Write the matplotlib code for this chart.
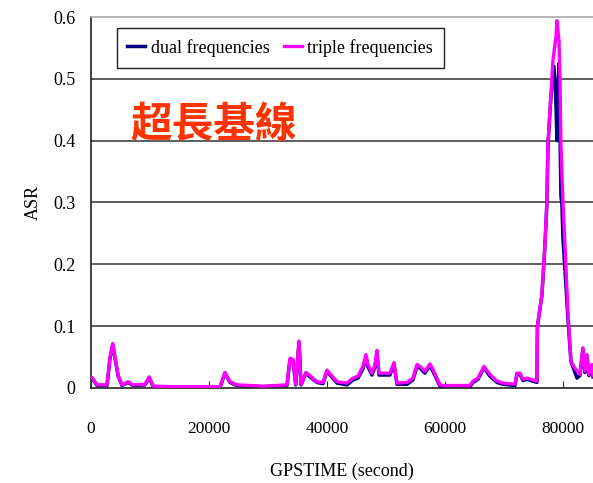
import matplotlib
matplotlib.use("Agg")
import matplotlib.pyplot as plt

# GPS time (s) and ASR values
t_triple = [0, 340, 1020, 2710, 3220, 3680, 4070, 4580, 5250, 6270, 7120, 9150, 9880,
            10510, 14580, 21870, 22710, 23560, 24750, 29150, 33220, 33730, 34240, 34700,
            35260, 35600, 36440, 37120, 38310, 39320, 40000, 40800, 41700, 43390, 44410,
            45260, 46100, 46610, 46950, 47630, 48140, 48480, 48820, 49830, 50680, 51360,
            51870, 53560, 54580, 55260, 55770, 56610, 57460, 57970, 59160, 59660, 64240,
            64750, 65600, 66610, 67630, 68820, 69830, 71870, 72210, 72720, 73220, 73900,
            75600, 75680, 76440, 76950, 77290, 77460, 77800, 78310, 78820, 78990, 79330,
            79500, 79660, 80000, 80340, 80850, 81360, 82040, 82890, 83390, 83730, 84070,
            84410, 84920, 85100]
asr_triple = [0.018, 0.015, 0.005, 0.005, 0.05, 0.072, 0.05, 0.021, 0.005, 0.01, 0.005, 0.006, 0.018,
              0.003, 0.002, 0.002, 0.025, 0.01, 0.005, 0.003, 0.005, 0.048, 0.046, 0.006,
              0.076, 0.006, 0.025, 0.02, 0.01, 0.009, 0.029, 0.02, 0.01, 0.008, 0.016,
              0.019, 0.035, 0.054, 0.038, 0.024, 0.038, 0.061, 0.024, 0.024, 0.024, 0.041,
              0.008, 0.009, 0.016, 0.038, 0.035, 0.027, 0.039, 0.03, 0.005, 0.004, 0.004,
              0.011, 0.016, 0.035, 0.022, 0.011, 0.008, 0.006, 0.024, 0.024, 0.014, 0.016,
              0.011, 0.1, 0.151, 0.232, 0.303, 0.395, 0.449, 0.53, 0.568, 0.594, 0.562,
              0.503, 0.395, 0.303, 0.232, 0.124, 0.043, 0.032, 0.022, 0.065, 0.027, 0.054,
              0.022, 0.038, 0.02]

t_dual = [0, 340, 1020, 2710, 3220, 3680, 4070, 4580, 5250, 6270, 7120, 9150, 9880,
          10510, 14580, 21870, 22710, 23560, 24750, 29150, 33220, 33730, 34240, 34700,
          35260, 35600, 36440, 37120, 38310, 39320, 40000, 40800, 41700, 43390, 44410,
          45260, 46100, 46610, 46950, 47630, 48140, 48480, 48820, 49830, 50680, 51360,
          51870, 53560, 54580, 55260, 55770, 56610, 57460, 57970, 59160, 59660, 64240,
          64750, 65600, 66610, 67630, 68820, 69830, 71870, 72210, 72720, 73220, 73900,
          75600, 75680, 76440, 76950, 77290, 77460, 77800, 77970, 78480, 78740, 78990,
          79330, 79660, 79830, 80000, 80430, 80850, 81360, 82380, 82890, 83390, 83730,
          84070, 84410, 84920, 85100]
asr_dual = [0.017, 0.014, 0.004, 0.004, 0.048, 0.07, 0.048, 0.02, 0.004, 0.009, 0.004, 0.005, 0.017,
            0.002, 0.001, 0.001, 0.024, 0.009, 0.004, 0.002, 0.004, 0.046, 0.044, 0.005,
            0.074, 0.005, 0.024, 0.018, 0.009, 0.007, 0.027, 0.018, 0.008, 0.005, 0.013,
            0.016, 0.031, 0.05, 0.034, 0.021, 0.034, 0.058, 0.021, 0.021, 0.021, 0.039,
            0.006, 0.006, 0.013, 0.035, 0.032, 0.024, 0.036, 0.027, 0.003, 0.002, 0.002,
            0.009, 0.014, 0.033, 0.019, 0.009, 0.006, 0.004, 0.023, 0.022, 0.012, 0.014,
            0.009, 0.1, 0.15, 0.23, 0.3, 0.39, 0.445, 0.47, 0.52, 0.486, 0.4,
            0.525, 0.31, 0.297, 0.243, 0.178, 0.113, 0.043, 0.016, 0.02, 0.063, 0.025,
            0.052, 0.02, 0.036, 0.018]

yticks = [0, 0.1, 0.2, 0.3, 0.4, 0.5, 0.6]
ytick_labels = ["0", "0.1", "0.2", "0.3", "0.4", "0.5", "0.6"]
xticks = [0, 20000, 40000, 60000, 80000]

plt.rcParams['font.family'] = ['Liberation Serif', 'DejaVu Serif']

fig = plt.figure(figsize=(5.93, 4.83), dpi=100)
ax = fig.add_axes([0.1535, 0.1967, 0.8465, 0.7681])

for y in yticks[1:-1]:
    ax.axhline(y, color='#333333', lw=1.1, zorder=1)

ax.plot(t_dual, asr_dual, color='#000080', lw=2.5, label='dual frequencies', zorder=2)
ax.plot(t_triple, asr_triple, color='#FF00FF', lw=2.4, label='triple frequencies', zorder=3)

ax.set_xlim(0, 85100)
ax.set_ylim(0, 0.6)
ax.set_xticks(xticks)
ax.set_xticklabels([str(v) for v in xticks], fontsize=12.5)
ax.set_yticks(yticks)
ax.set_yticklabels(ytick_labels, fontsize=13)
ax.tick_params(axis='x', direction='in', length=5, pad=24, color='#333333')
ax.tick_params(axis='y', length=0, pad=11)

ax.spines['right'].set_visible(False)
ax.spines['top'].set_color('#aaaaaa')
ax.spines['top'].set_linewidth(1.2)
ax.spines['left'].set_color('#222222')
ax.spines['bottom'].set_color('#222222')
ax.spines['left'].set_linewidth(1.2)
ax.spines['bottom'].set_linewidth(1.2)

ax.set_xlabel('GPSTIME (second)', fontsize=13, labelpad=18)
ax.set_ylabel('ASR', fontsize=13, labelpad=8)

leg = ax.legend(loc='upper left', bbox_to_anchor=(0.04, 0.985), ncol=2, fontsize=13,
                handlelength=1.0, handletextpad=0.3, columnspacing=0.8,
                fancybox=False, framealpha=1, borderpad=0.6, borderaxespad=0.3)
leg.get_frame().set_edgecolor('#222222')
leg.get_frame().set_linewidth(1.0)

fig.text(130 / 593, 1 - 125 / 483, '超長基線', color='#FF3300', fontsize=30,
         fontweight='bold', va='center', ha='left',
         family=['Noto Sans CJK TC', 'DejaVu Sans'])

fig.savefig('out.png', dpi=100)
